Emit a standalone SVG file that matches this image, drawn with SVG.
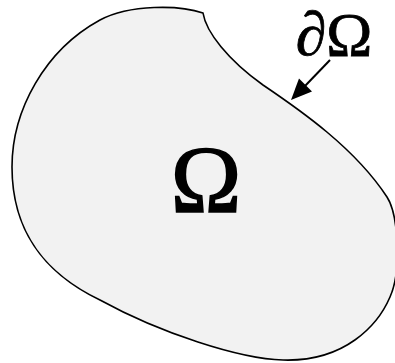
<svg xmlns="http://www.w3.org/2000/svg" width="395" height="363" viewBox="0 0 395 363">
<style>
.lbl{font-family:"Liberation Serif","Times New Roman",serif;fill:#000;text-anchor:middle;stroke:#000}
</style>
<rect width="395" height="363" fill="#fff"/>
<g id="domain">
<path d="M203,13 C206,32 228,60 263,85 C300,110 355,148 387,197 C398,214 402,270 390,297 C378,325 345,362 283,360 C240,359 160,333 100,300 C48,275 12,235 12,167 C12,110 45,50 100,20 C130,4 180,5 203,13 Z" fill="#f2f2f2" stroke="#000" stroke-width="1.6"/>
<text class="lbl" x="206" y="212" font-size="95" stroke-width="1.6">Ω</text>
</g>
<g id="boundary-label">
<text class="lbl" x="334" y="55" font-size="62" stroke-width="0.8">∂Ω</text>
</g>
<g id="connectors">
<line x1="330" y1="60" x2="305" y2="86" stroke="#000" stroke-width="2"/>
<polygon points="291,100 312,91.5 299,78.5" fill="#000"/>
</g>
</svg>
